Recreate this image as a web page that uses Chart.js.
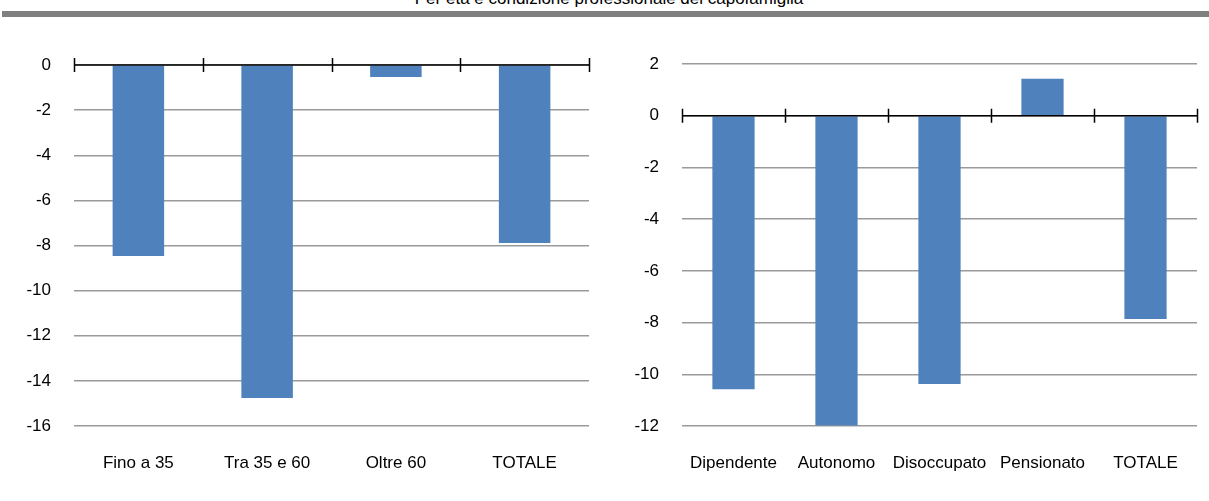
<!DOCTYPE html>
<html lang="it">
<head>
<meta charset="utf-8">
<title>Per età e condizione professionale del capofamiglia</title>
<script src="https://cdn.jsdelivr.net/npm/chart.js@4/dist/chart.umd.min.js"></script>
<style>
    body { margin: 0; background: #fff; overflow: hidden; }
    #page { position: relative; width: 1209px; height: 501px; }
    #titolo {
        position: absolute; left: 0; top: -10px; width: 1218px;
        text-align: center; font: 17px/17px "Liberation Sans", Arial, sans-serif;
        color: #000; white-space: nowrap;
    }
    #barra { position: absolute; left: 2px; top: 11px; width: 1207px; height: 6px; background: #808080; }
    canvas { position: absolute; top: 0; }
    #chartEta { left: 0; }
    #chartCond { left: 604px; }
</style>
</head>
<body>
<div id="page">
    <div id="titolo">Per età e condizione professionale del capofamiglia</div>
    <div id="barra"></div>
    <canvas id="chartEta" width="604" height="501"></canvas>
    <canvas id="chartCond" width="605" height="501"></canvas>
</div>
<script>
// Grafico sinistro: per età del capofamiglia
const etaLabels = ['Fino a 35', 'Tra 35 e 60', 'Oltre 60', 'TOTALE'];
const etaValori = [-8.47, -14.76, -0.53, -7.89];
const etaTicks = [0, -2, -4, -6, -8, -10, -12, -14, -16];

// Grafico destro: per condizione professionale
const condLabels = ['Dipendente', 'Autonomo', 'Disoccupato', 'Pensionato', 'TOTALE'];
const condValori = [-10.58, -11.98, -10.38, 1.43, -7.86];
const condTicks = [2, 0, -2, -4, -6, -8, -10, -12];

const FONT = '"Liberation Sans", Arial, sans-serif';
const BLU = '#4F81BD';

// asse delle categorie disegnato sullo zero, con le tacche tra le categorie
const asseZero = {
    id: 'asseZero',
    afterDatasetsDraw(chart) {
        const { ctx, chartArea, scales: { x, y } } = chart;
        const y0 = y.getPixelForValue(0);
        ctx.save();
        ctx.strokeStyle = '#000';
        ctx.lineWidth = 1.5;
        ctx.beginPath();
        ctx.moveTo(chartArea.left, y0);
        ctx.lineTo(chartArea.right, y0);
        for (let i = 0; i <= chart.data.labels.length; i++) {
            const px = Math.round(x.getPixelForValue(i - 0.5)) + 0.5;
            ctx.moveTo(px, y0 - 7);
            ctx.lineTo(px, y0 + 7);
        }
        ctx.stroke();
        ctx.restore();
    }
};

function creaGrafico(id, labels, valori, ticks, larghezzaAsse, padding, barPct) {
    const minY = Math.min(...ticks), maxY = Math.max(...ticks);
    return new Chart(document.getElementById(id), {
        type: 'bar',
        data: {
            labels: labels,
            datasets: [{
                data: valori,
                backgroundColor: BLU,
                borderWidth: 0,
                categoryPercentage: 1,
                barPercentage: barPct
            }]
        },
        options: {
            responsive: false,
            animation: false,
            layout: { padding: padding },
            plugins: { legend: { display: false }, tooltip: { enabled: false } },
            scales: {
                x: {
                    afterFit: s => { s.height = 75; },
                    grid: { display: false, drawTicks: false },
                    border: { display: false },
                    ticks: { color: '#000', font: { family: FONT, size: 17 }, padding: 27, maxRotation: 0, autoSkip: false }
                },
                y: {
                    min: minY,
                    max: maxY,
                    afterFit: s => { s.width = larghezzaAsse; },
                    grid: { color: '#9a9a9a', lineWidth: 1.5, drawTicks: false },
                    border: { display: false },
                    ticks: { stepSize: 2, color: '#000', font: { family: FONT, size: 17 }, padding: 23 }
                }
            }
        },
        plugins: [asseZero]
    });
}

creaGrafico('chartEta', etaLabels, etaValori, etaTicks, 74, { top: 65, right: 15, bottom: 0, left: 0 }, 0.4);
creaGrafico('chartCond', condLabels, condValori, condTicks, 78, { top: 64, right: 12, bottom: 0, left: 0 }, 0.41);
</script>
</body>
</html>
